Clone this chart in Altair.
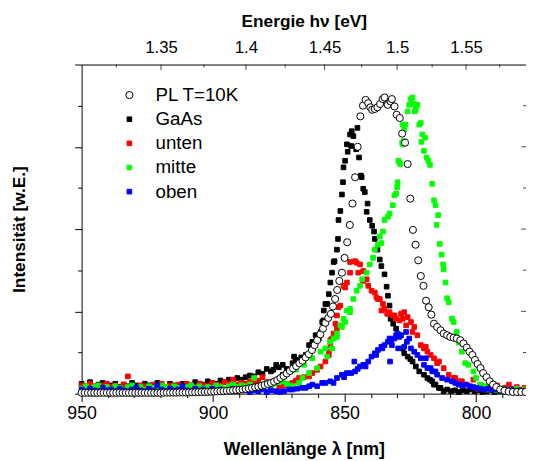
import altair as alt
import pandas as pd

# ---------------- data ----------------
series_names = ["PL T=10K", "GaAs", "unten", "mitte", "oben"]
fill_colors = ["white", "black", "#ff0000", "#00ff00", "#0000ff"]
stroke_colors = ["black", "black", "#ff0000", "#00ff00", "#0000ff"]
shapes = ["circle", "square", "square", "square", "square"]
sizes = [52, 22, 22, 22, 22]
draw_order = [4, 0, 1, 2, 3]

pl_nm = [950, 948.8, 947.6, 946.4, 945.2, 944, 942.8, 941.6, 940.4, 939.2,
         938, 936.8, 935.6, 934.4, 933.2, 932, 930.8, 929.6, 928.4, 927.2,
         926, 924.8, 923.6, 922.4, 921.2, 920, 918.8, 917.6, 916.4, 915.2,
         914, 912.8, 911.6, 910.4, 909.2, 908, 906.8, 905.6, 904.4, 903.2,
         902, 900.8, 899.6, 898.4, 897.2, 896, 894.8, 893.6, 892.4, 891.2,
         890, 888.8, 887.6, 886.4, 885.2, 884, 882.8, 881.6, 880.4, 879.2,
         878, 876.8, 875.6, 874.4, 873.2, 872, 870.8, 869.6, 868.4, 867.2,
         866, 864.8, 863.6, 862.4, 861.4, 860.4, 859.2, 858.2, 857.3, 856.2,
         855.2, 854.4, 853.6, 852.8, 852, 851, 850, 849, 848, 847,
         846, 845, 844, 843, 842, 841, 840.2, 839.5, 838.5, 837.5,
         836.5, 835.5, 834.8, 833.6, 832.5, 832, 831, 830.2, 829, 828.1,
         827, 826, 825, 824, 823, 822, 821, 820, 819, 818,
         817, 816, 814.8, 813.5, 812.3, 811, 809.8, 808.5, 807.3, 806,
         804.8, 803.5, 802.5, 801.4, 800.4, 799.4, 798.3, 797.3, 796, 794.8,
         793.5, 792.3, 790.8, 789.2, 787.6, 786, 784.4, 782.8, 781.2]
pl_int = [0.01, 0.01, 0.01, 0.01, 0.01, 0.01, 0.01, 0.01, 0.01, 0.01,
          0.01, 0.01, 0.01, 0.01, 0.01, 0.01, 0.01, 0.01, 0.01, 0.01,
          0.01, 0.01, 0.01, 0.01, 0.01, 0.01, 0.012, 0.012, 0.012, 0.012,
          0.012, 0.014, 0.014, 0.014, 0.015, 0.016, 0.017, 0.018, 0.019, 0.02,
          0.021, 0.023, 0.025, 0.027, 0.029, 0.031, 0.034, 0.037, 0.04, 0.043,
          0.047, 0.052, 0.057, 0.063, 0.07, 0.077, 0.085, 0.095, 0.105, 0.117,
          0.13, 0.145, 0.165, 0.19, 0.215, 0.245, 0.275, 0.305, 0.335, 0.37,
          0.4, 0.44, 0.48, 0.53, 0.59, 0.65, 0.72, 0.79, 0.86, 0.92,
          0.97, 1.06, 1.15, 1.26, 1.37, 1.47, 1.65, 1.84, 2.05, 2.31,
          2.63, 3.0, 3.37, 3.5, 3.57, 3.53, 3.48, 3.45, 3.46, 3.48,
          3.52, 3.58, 3.6, 3.51, 3.55, 3.58, 3.49, 3.39, 3.35, 3.16,
          3.05, 2.79, 2.37, 1.99, 1.81, 1.62, 1.43, 1.31, 1.13, 1.05,
          0.96, 0.85, 0.81, 0.77, 0.73, 0.71, 0.69, 0.68, 0.67, 0.65,
          0.61, 0.56, 0.51, 0.47, 0.41, 0.36, 0.31, 0.25, 0.2, 0.15,
          0.11, 0.08, 0.05, 0.035, 0.025, 0.02, 0.02, 0.02, 0.02]

# wavelength grid of the noisy baseline on the long-wavelength side
baseline_nm = [950, 948.4, 946.8, 945.2, 943.6, 942, 940.4, 938.8, 937.2, 935.6,
               934, 932.4, 930.8, 929.2, 927.6, 926, 924.4, 922.8, 921.2, 919.6,
               918, 916.4, 914.8, 913.2, 911.6, 910, 908.4, 906.8, 905.2, 903.6,
               902, 900.4, 898.8, 897.2, 895.6, 894, 892.4, 890.8, 889.2, 887.6,
               886, 884.4, 882.8, 881.2, 879.6, 878]

gaas_nm = baseline_nm + [
    877.1, 876, 875, 873.5, 873.5, 872, 869.75, 869.2, 868.5, 866.5,
    864.75, 863.5, 862.25, 861, 859.8, 859.1, 858.5, 858, 857.9, 857.3,
    856.6, 856, 855.4, 854.75, 854.15, 853.8, 852.9, 852.5, 852.3, 851.6,
    851, 850.6, 850.4, 849.8, 849.1, 848.8, 847.9, 847.5, 847.25, 846.65,
    845.6, 845.1, 844.5, 843.8, 843.5, 842.9, 842.3, 841.6, 841.25, 840.4,
    839.5, 838.8, 838.5, 837.5, 836.6, 836, 834.8, 834, 833.5, 832.9,
    832.5, 831.5, 830.4, 829.1, 827.9, 827.3, 826, 825, 824.15, 822.9,
    821.6, 819.8, 818.5, 817.5, 816.65, 816, 815.4, 814.1, 813.5, 812.3,
    811, 809.5, 808, 806.5, 805, 803.5, 802, 800.5, 799, 797.5,
    796, 794.5, 793, 791.5, 790, 788.5, 787, 785.5, 784, 782.5, 781]
gaas_int = [
    0.12, 0.09, 0.14, 0.08, 0.11, 0.13, 0.07, 0.1, 0.12, 0.08,
    0.11, 0.09, 0.13, 0.1, 0.08, 0.12, 0.1, 0.09, 0.13, 0.11,
    0.08, 0.12, 0.1, 0.09, 0.12, 0.11, 0.1, 0.14, 0.12, 0.11,
    0.15, 0.13, 0.12, 0.16, 0.14, 0.17, 0.15, 0.19, 0.17, 0.2,
    0.22, 0.21, 0.26, 0.24, 0.3, 0.27,
    0.29, 0.35, 0.32, 0.35, 0.23, 0.3, 0.37, 0.45, 0.41, 0.44,
    0.47, 0.59, 0.63, 0.71, 0.67, 0.75, 0.87, 0.89, 1.01, 1.09,
    1.09, 1.21, 1.35, 1.47, 1.6, 1.61, 1.75, 1.88, 2.11, 2.22,
    2.42, 2.57, 2.75, 2.83, 3.03, 2.94, 3.15, 3.01, 3.19, 3.13,
    2.97, 3.23, 2.87, 2.65, 2.63, 2.49, 2.45, 2.21, 2.31, 2.11,
    2.04, 1.97, 1.88, 1.75, 1.63, 1.55, 1.45, 1.3, 1.19, 1.07,
    0.91, 0.85, 0.79, 0.71, 0.55, 0.49, 0.45, 0.42, 0.39, 0.33,
    0.27, 0.23, 0.19, 0.17, 0.15, 0.11, 0.11, 0.07, 0.07, 0.03,
    0.05, 0.03, 0.04, 0.02, 0.04, 0.03, 0.05, 0.03, 0.04, 0.02,
    0.03, 0.04, 0.02, 0.03, 0.04, 0.03, 0.02, 0.04, 0.03, 0.03, 0.04]

unten_nm = baseline_nm + [
    876.4, 874.8, 873, 871.5, 869.75, 868.5, 867.3, 865.5, 863.5, 862.25,
    860.4, 859.1, 857.3, 856, 856, 855.4, 855.4, 854.15, 854.75, 853.5,
    852.9, 852.9, 851.6, 852.3, 850.4, 849.8, 849.1, 847.9, 847.9, 846,
    845.4, 844.8, 844.1, 842.9, 842.9, 841.6, 841, 839.75, 838.5, 837.9,
    837.3, 836.6, 836, 835.4, 834.8, 833.8, 832.9, 831.65, 831, 830.4,
    829.1, 828.5, 827.9, 827.3, 826.6, 826, 824.75, 824.2, 823.5, 822.3,
    821, 819.8, 819.1, 818.5, 817.25, 816, 814.8, 814.1, 812.3, 810.4,
    808.5, 807.9, 806, 805.4, 803.5, 801, 799.5, 798, 796.5, 795,
    793.5, 792, 790.5, 789, 787.5, 786, 784.5, 783, 781.5]
unten_int = [
    0.1, 0.07, 0.12, 0.09, 0.06, 0.1, 0.12, 0.08, 0.1, 0.07,
    0.11, 0.21, 0.08, 0.06, 0.1, 0.09, 0.07, 0.11, 0.09, 0.12,
    0.08, 0.1, 0.07, 0.11, 0.09, 0.12, 0.1, 0.08, 0.12, 0.1,
    0.09, 0.13, 0.11, 0.1, 0.14, 0.12, 0.17, 0.11, 0.13, 0.12,
    0.15, 0.13, 0.16, 0.2, 0.14, 0.12,
    0.13, 0.07, 0.1, 0.12, 0.13, 0.16, 0.19, 0.2, 0.21, 0.25,
    0.29, 0.33, 0.39, 0.51, 0.47, 0.65, 0.59, 0.73, 0.67, 0.85,
    0.95, 0.79, 1.07, 1.05, 1.31, 1.29, 1.35, 1.47, 1.6, 1.61,
    1.59, 1.47, 1.57, 1.49, 1.37, 1.39, 1.31, 1.25, 1.23, 1.17,
    1.15, 1.15, 1.01, 1.09, 1.03, 0.97, 0.99, 0.95, 0.95, 0.91,
    0.89, 0.97, 0.91, 0.99, 0.83, 0.93, 0.87, 0.75, 0.81, 0.71,
    0.59, 0.55, 0.57, 0.51, 0.47, 0.43, 0.37, 0.39, 0.31, 0.23,
    0.19, 0.19, 0.15, 0.15, 0.11, 0.17, 0.06, 0.09, 0.05, 0.08,
    0.06, 0.1, 0.05, 0.07, 0.11, 0.06, 0.08, 0.05, 0.07]

mitte_nm = baseline_nm + [
    876.8, 875.2, 873.5, 872, 871, 869.75, 868.5, 867.3, 866, 865.4,
    863.5, 862.25, 860.4, 859.1, 857.3, 856.6, 855.4, 854.75, 854.15, 852.9,
    852.9, 851.6, 851, 850.4, 849.8, 849.1, 847.9, 847.9, 846.65, 845.4,
    844.1, 843.3, 841.6, 840.4, 839.15, 838.5, 837.3, 836.6, 836, 835.4,
    834.8, 833.5, 832.9, 831.65, 831, 830.4, 830, 829.8, 829.5, 829.1,
    828.8, 828.1, 827.9, 827.9, 827.5, 827.3, 826.9, 826, 825.4, 824.75,
    824.15, 823.5, 823.25, 822.9, 822.3, 821.6, 821, 820.8, 820.4, 819.8,
    819.4, 818.75, 818.15, 817.5, 816.65, 816, 815.4, 815, 814.4, 813.8,
    813.1, 812.5, 812.3, 811.6, 811, 810.4, 809.15, 808.5, 807.3, 806.5,
    805.4, 804.1, 802.9, 801, 800, 798.5, 796.6, 795, 793.5, 792,
    790.5, 789, 787.5, 786, 784.5, 783, 781.5]
mitte_int = [
    0.06, 0.09, 0.05, 0.08, 0.1, 0.06, 0.08, 0.05, 0.09, 0.07,
    0.05, 0.08, 0.1, 0.06, 0.08, 0.05, 0.09, 0.07, 0.06, 0.1,
    0.08, 0.06, 0.09, 0.07, 0.05, 0.08, 0.1, 0.07, 0.09, 0.06,
    0.08, 0.07, 0.1, 0.08, 0.06, 0.09, 0.11, 0.08, 0.1, 0.09,
    0.11, 0.19, 0.09, 0.11, 0.13, 0.1,
    0.12, 0.14, 0.15, 0.12, 0.1, 0.09, 0.29, 0.13, 0.19, 0.35,
    0.25, 0.43, 0.31, 0.51, 0.55, 0.45, 0.63, 0.55, 0.67, 0.73,
    0.69, 0.83, 0.81, 0.91, 0.87, 1.01, 1.03, 0.99, 1.15, 1.25,
    1.31, 1.39, 1.47, 1.57, 1.65, 1.75, 1.81, 1.91, 1.83, 1.97,
    2.11, 2.15, 2.19, 2.29, 2.41, 2.43, 2.51, 2.57, 2.83, 2.81,
    2.79, 3.05, 3.03, 3.27, 3.07, 3.21, 3.27, 3.43, 3.51, 3.58,
    3.6, 3.52, 3.43, 3.46, 3.51, 3.27, 3.29, 3.06, 3.15, 2.95,
    3.11, 2.87, 2.83, 2.78, 2.55, 2.35, 2.29, 2.05, 2.17, 1.82,
    1.69, 1.57, 1.51, 1.35, 1.16, 1.11, 0.91, 0.87, 0.75, 0.62,
    0.51, 0.37, 0.35, 0.27, 0.19, 0.11, 0.09, 0.05, 0.07, 0.04,
    0.06, 0.04, 0.05, 0.03, 0.06, 0.04, 0.05]

oben_nm = baseline_nm + [
    876, 874.5, 873, 871, 869.8, 868, 866, 864.8, 863.5, 862.25,
    860.4, 858.5, 857.3, 855.4, 854.2, 852.9, 851, 850.2, 849.1, 847.5,
    846.3, 846, 845, 844.1, 842.9, 842, 841, 839.75, 838.5, 838,
    837.3, 836, 835.6, 834.8, 833.5, 832.9, 832.7, 832.25, 832, 831,
    830.4, 829.8, 829.6, 829.1, 828.5, 827.3, 826.6, 826.3, 825.4, 824.75,
    823.5, 822.3, 821, 819.8, 819.1, 818.5, 817.25, 816.65, 815.4, 814.8,
    812.9, 811, 809.15, 807.9, 806.6, 805.3, 804.1, 802.25, 801, 799.8,
    798.3, 797, 795.5, 794, 792.5, 791, 789.5, 788, 786.5, 785,
    783.5, 782]
oben_int = [
    0.05, 0.03, 0.06, 0.04, 0.03, 0.07, 0.04, 0.05, 0.03, 0.06,
    0.04, 0.03, 0.05, 0.07, 0.04, 0.03, 0.06, 0.04, 0.1, 0.05,
    0.03, 0.06, 0.04, 0.05, 0.09, 0.04, 0.03, 0.06, 0.04, 0.05,
    0.03, 0.06, 0.04, 0.05, 0.03, 0.04, 0.06, 0.03, 0.05, 0.04,
    0.02, 0.04, 0.03, 0.05, 0.02, 0.04,
    0.03, 0.02, 0.03, 0.05, 0.05, 0.06, 0.07, 0.07, 0.09, 0.11,
    0.09, 0.13, 0.13, 0.15, 0.13, 0.19, 0.23, 0.2, 0.25, 0.25,
    0.39, 0.27, 0.3, 0.33, 0.35, 0.33, 0.39, 0.45, 0.49, 0.47,
    0.53, 0.57, 0.55, 0.59, 0.63, 0.67, 0.39, 0.65, 0.59, 0.67,
    0.71, 0.73, 0.55, 0.69, 0.71, 0.57, 0.75, 0.63, 0.67, 0.55,
    0.51, 0.47, 0.43, 0.35, 0.43, 0.31, 0.31, 0.27, 0.27, 0.23,
    0.19, 0.17, 0.15, 0.13, 0.11, 0.1, 0.11, 0.09, 0.08, 0.07,
    0.06, 0.05, 0.06, 0.05, 0.05, 0.04, 0.05, 0.04, 0.05, 0.03,
    0.04, 0.03]

# axis ticks
bottom_ticks_nm = [950, 940, 930, 920, 910, 900, 890, 880, 870, 860,
                   850, 840, 830, 820, 810, 800, 790]
top_major_nm = [919.8, 887.5, 857.6, 830.0, 803.8]
top_labels = ["1.35", "1.4", "1.45", "1.5", "1.55"]
top_minor_nm = [936.8, 903.5, 872.6, 843.5, 816.7, 791.0]
y_ticks = [0, 0.5, 1, 1.5, 2, 2.5, 3, 3.5, 4]
right_major = [1, 2, 3]
right_minor = [0.5, 1.5, 2.5, 3.5]

# ---------------- build tables ----------------
frames = []
for name, nm, iv in [("GaAs", gaas_nm, gaas_int), ("unten", unten_nm, unten_int),
                     ("mitte", mitte_nm, mitte_int), ("oben", oben_nm, oben_int),
                     ("PL T=10K", pl_nm, pl_int)]:
    n = min(len(nm), len(iv))
    frames.append(pd.DataFrame({"nm": nm[:n], "I": iv[:n], "Serie": name,
                                "z": draw_order[series_names.index(name)]}))
df = pd.concat(frames, ignore_index=True)
df_pl = pd.DataFrame({"nm": pl_nm, "I": pl_int})
df_top_major = pd.DataFrame({"nm": top_major_nm})
df_top_minor = pd.DataFrame({"nm": top_minor_nm})
df_r_major = pd.DataFrame({"I": right_major})
df_r_minor = pd.DataFrame({"I": right_minor})

W, H = 451, 334
FONT = "Liberation Sans"
xscale = alt.Scale(domain=[950, 781], nice=False, zero=False)
yscale = alt.Scale(domain=[0, 4], nice=False, zero=False)

legend = alt.Legend(title=None, orient="none", legendX=39, legendY=21.5, padding=0,
                    labelFont=FONT, labelFontSize=19, labelColor="black",
                    labelOffset=17, rowPadding=4.5, symbolStrokeWidth=1)

points = alt.Chart(df).mark_point(opacity=1, strokeWidth=1).encode(
    x=alt.X("nm:Q", scale=xscale, axis=alt.Axis(
        orient="bottom", values=bottom_ticks_nm,
        labelExpr="datum.value % 50 == 0 ? datum.label : ''",
        tickSize={"condition": {"test": "datum.value % 50 == 0", "value": 8}, "value": 4},
        labelFontSize=18, labelPadding=3, labelOverlap=False, labelFlush=False,
        title="Wellenlänge λ [nm]", titleFontSize=18, titleFontWeight="bold",
        titlePadding=19, grid=False)),
    y=alt.Y("I:Q", scale=yscale, axis=alt.Axis(
        orient="left", values=y_ticks, labels=False,
        tickSize={"condition": {"test": "datum.value % 1 == 0", "value": 7}, "value": 4},
        title="Intensität [w.E.]", titleFontSize=17.5, titleFontWeight="bold",
        titlePadding=46, grid=False)),
    fill=alt.Fill("Serie:N", scale=alt.Scale(domain=series_names, range=fill_colors), legend=legend),
    stroke=alt.Stroke("Serie:N", scale=alt.Scale(domain=series_names, range=stroke_colors), legend=legend),
    shape=alt.Shape("Serie:N", scale=alt.Scale(domain=series_names, range=shapes), legend=legend),
    size=alt.Size("Serie:N", scale=alt.Scale(type="ordinal", domain=series_names, range=sizes), legend=legend),
    order=alt.Order("z:Q"),
)

top_expr = " : ".join(f"datum.value == {v} ? '{l}'" for v, l in zip(top_major_nm, top_labels)) + " : ''"
top_axis = alt.Chart(df_pl).mark_point(opacity=0).encode(
    x=alt.X("nm:Q", scale=xscale, axis=alt.Axis(
        orient="top", values=top_major_nm, labelExpr=top_expr, ticks=False, tickSize=0,
        labelFontSize=17, labelPadding=8, labelOverlap=False, labelFlush=False,
        title="Energie hν [eV]", titleFontSize=17.5, titleFontWeight="bold",
        titlePadding=9, grid=False)),
    y=alt.Y("I:Q", scale=yscale, axis=None),
)

tick_top_major = alt.Chart(df_top_major).mark_tick(orient="vertical", thickness=1, size=5.5, color="black").encode(
    x=alt.X("nm:Q", scale=xscale, axis=None), y=alt.value(2.75))
tick_top_minor = alt.Chart(df_top_minor).mark_tick(orient="vertical", thickness=1, size=3, color="black").encode(
    x=alt.X("nm:Q", scale=xscale, axis=None), y=alt.value(1.5))
tick_r_major = alt.Chart(df_r_major).mark_tick(orient="horizontal", thickness=1, size=5, color="black").encode(
    y=alt.Y("I:Q", scale=yscale, axis=None), x=alt.value(W - 2.5))
tick_r_minor = alt.Chart(df_r_minor).mark_tick(orient="horizontal", thickness=1, size=3, color="black").encode(
    y=alt.Y("I:Q", scale=yscale, axis=None), x=alt.value(W - 1.5))

chart = alt.layer(points, top_axis, tick_top_major, tick_top_minor, tick_r_major, tick_r_minor).resolve_axis(
    x="independent", y="independent"
).properties(
    width=W, height=H,
    autosize=alt.AutoSizeParams(type="none"),
    padding={"left": 74.7, "top": 54, "right": 0, "bottom": 65},
).configure_view(stroke=None).configure_axis(
    labelFont=FONT, titleFont=FONT, labelColor="black", titleColor="black",
    tickColor="black", domainColor="black", tickWidth=1, domainWidth=1,
)

chart.save("out.html", embed_options={"renderer": "svg", "actions": False})
